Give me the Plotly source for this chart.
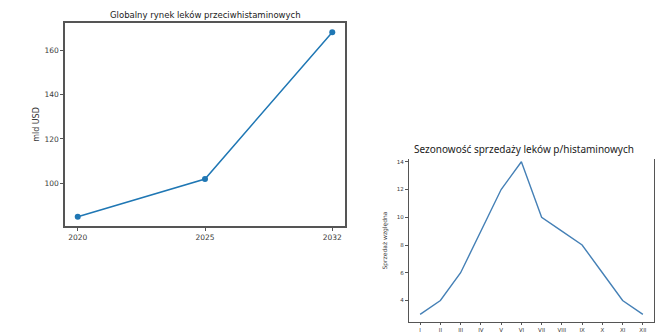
import plotly.graph_objects as go

# Left chart data
years = ["2020", "2025", "2032"]
market_bn_usd = [85, 102, 168]

# Right chart data
months = ["I", "II", "III", "IV", "V", "VI", "VII", "VIII", "IX", "X", "XI", "XII"]
relative_sales = [3, 4, 6, 9, 12, 14, 10, 9, 8, 6, 4, 3]

W, H = 666, 334
def px_x(a, b):
    return [a / W, b / W]
def px_y(top, bottom):
    return [1 - bottom / H, 1 - top / H]

spine = "#555555"
tickc = "#3a3a3a"

fig = go.Figure()
fig.add_trace(go.Scatter(
    x=years, y=market_bn_usd, mode="lines+markers",
    line=dict(color="#1f77b4", width=1.5),
    marker=dict(color="#1f77b4", size=6),
    xaxis="x", yaxis="y", showlegend=False))
fig.add_trace(go.Scatter(
    x=months, y=relative_sales, mode="lines",
    line=dict(color="#4580b6", width=1.4),
    xaxis="x2", yaxis="y2", showlegend=False))

fig.update_layout(
    width=W, height=H,
    margin=dict(l=0, r=0, t=0, b=0),
    paper_bgcolor="white", plot_bgcolor="white",
    font=dict(family="DejaVu Sans", color=tickc),
    xaxis=dict(domain=px_x(57, 337), type="category", range=[-0.1, 2.1],
               showline=True, mirror=True, linecolor=spine, linewidth=1.5,
               ticks="outside", ticklen=3, tickcolor=spine,
               showgrid=False, zeroline=False, tickfont=dict(size=7.5, color=tickc),
               anchor="y"),
    yaxis=dict(domain=px_y(15, 218), range=[80.85, 172.15],
               tickvals=[100, 120, 140, 160],
               showline=True, mirror=True, linecolor=spine, linewidth=1.5,
               ticks="outside", ticklen=3, tickcolor=spine,
               showgrid=False, zeroline=False, tickfont=dict(size=7.5, color=tickc),
               title=dict(text="mld USD", font=dict(size=8, color=tickc), standoff=4),
               anchor="x"),
    xaxis2=dict(domain=px_x(401, 646), type="category", range=[-0.55, 11.55],
                showline=True, mirror=False, linecolor=spine, linewidth=1.2,
                ticks="outside", ticklen=2, tickcolor=spine,
                showgrid=False, zeroline=False, tickfont=dict(size=5.5, color=tickc),
                anchor="y2"),
    yaxis2=dict(domain=px_y(151, 314), range=[2.45, 14.2],
                tickvals=[4, 6, 8, 10, 12, 14],
                showline=True, mirror=True, linecolor=spine, linewidth=1.2,
                ticks="outside", ticklen=3, tickcolor=spine,
                showgrid=False, zeroline=False, tickfont=dict(size=5.5, color=tickc),
                title=dict(text="Sprzedaż względna", font=dict(size=6, color=tickc), standoff=8),
                anchor="x2"),
    annotations=[
        dict(text="Globalny rynek leków przeciwhistaminowych", x=197 / W, y=1 - 7 / H,
             xref="paper", yref="paper", xanchor="center", yanchor="middle",
             showarrow=False, font=dict(family="DejaVu Sans", size=8.5, color="#1a1a1a")),
        dict(text="Sezonowość sprzedaży leków p/histaminowych", x=516 / W, y=1 - 141 / H,
             xref="paper", yref="paper", xanchor="center", yanchor="middle",
             showarrow=False, font=dict(family="Noto Sans", size=10, color="#1a1a1a")),
    ],
)

fig.write_html("out.html")
